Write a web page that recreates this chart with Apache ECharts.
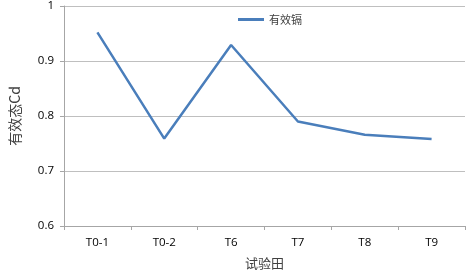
<!DOCTYPE html>
<html><head><meta charset="utf-8">
<script src="https://cdn.jsdelivr.net/npm/echarts@6/dist/echarts.min.js"></script>
<style>html,body{margin:0;padding:0;background:#fff}#c{width:467px;height:279px}</style>
</head><body><div id="c"></div>
<script>
var categories = ['T0-1','T0-2','T6','T7','T8','T9'];
var seriesName = '有效镉';
var values = [0.952, 0.759, 0.929, 0.790, 0.766, 0.758];
var yTicks = [0.6, 0.7, 0.8, 0.9, 1];

var chart = echarts.init(document.getElementById('c'));
chart.setOption({
  animation: false,
  grid: {left: 61, right: 2, top: 6, bottom: 53},
  legend: {
    data: [seriesName], top: 9, left: 233, itemWidth: 26, itemHeight: 3, itemGap: 3,
    icon: 'rect',
    textStyle: {fontFamily: 'Noto Sans CJK SC', fontSize: 11, color: '#404040'}
  },
  xAxis: {
    type: 'category', data: categories, boundaryGap: true,
    name: '试验田', nameLocation: 'middle', nameGap: 31,
    nameTextStyle: {fontFamily: 'Noto Sans CJK SC', fontSize: 13, color: '#404040'},
    axisLine: {lineStyle: {color: '#a6a6a6'}},
    axisTick: {show: true, length: 4, lineStyle: {color: '#a6a6a6'}},
    axisLabel: {fontFamily: 'Open Sans', fontSize: 11.5, color: '#000', margin: 11}
  },
  yAxis: {
    type: 'value', min: 0.6, max: 1, interval: 0.1,
    name: '有效态Cd', nameLocation: 'middle', nameGap: 42, nameRotate: 90,
    nameTextStyle: {fontFamily: 'Noto Sans CJK SC', fontSize: 14, color: '#404040'},
    axisLine: {show: true, lineStyle: {color: '#a6a6a6'}},
    axisTick: {show: true, length: 4, lineStyle: {color: '#a6a6a6'}},
    splitLine: {lineStyle: {color: '#bfbfbf'}},
    axisLabel: {fontFamily: 'Open Sans', fontSize: 11.5, color: '#000', margin: 10,
      formatter: function(v){ return String(Math.round(v*10)/10); }}
  },
  series: [{
    name: seriesName, type: 'line', data: values, symbol: 'none',
    lineStyle: {color: '#4a7ebb', width: 2.5}, itemStyle: {color: '#4a7ebb'}
  }]
});
</script></body></html>
